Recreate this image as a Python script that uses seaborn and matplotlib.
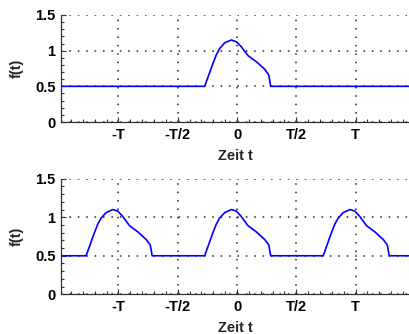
import numpy as np
import pandas as pd
import matplotlib
matplotlib.use("Agg")
import matplotlib.pyplot as plt
import seaborn as sns
from matplotlib.ticker import MultipleLocator

# Pulse shape (time in units of T)
pulse_t = [-0.273, -0.203, -0.175, -0.146, -0.104, -0.048, -0.006,
           0.036, 0.093, 0.163, 0.234, 0.268, 0.284]
pulse_top = [0.5, 0.82, 0.94, 1.03, 1.11, 1.15, 1.125,
             1.055, 0.93, 0.845, 0.74, 0.66, 0.5]
pulse_bottom = [0.5, 0.80, 0.91, 0.99, 1.06, 1.10, 1.08,
                1.01, 0.89, 0.81, 0.71, 0.64, 0.5]
base_level = 0.5
periods = [-1, 0, 1]

x_ticks = [-1, -0.5, 0, 0.5, 1]
x_ticklabels = ['-T', '-T/2', '0', 'T/2', 'T']
y_ticks = [0, 0.5, 1, 1.5]
y_ticklabels = ['0', '0.5', '1', '1.5']
x_range = (-1.485, 1.451)

# single pulse on a constant level
top_df = pd.DataFrame({
    't': [x_range[0]] + pulse_t + [x_range[1]],
    'f': [base_level] + pulse_top + [base_level],
})

# periodic continuation
rows_t, rows_f = [x_range[0]], [base_level]
for k in periods:
    rows_t += [k + t for t in pulse_t]
    rows_f += pulse_bottom
rows_t.append(x_range[1])
rows_f.append(base_level)
bottom_df = pd.DataFrame({'t': rows_t, 'f': rows_f})

sns.set_style("ticks")
plt.rcParams['font.family'] = ['Liberation Sans', 'DejaVu Sans']
plt.rcParams['font.weight'] = 'bold'

fig = plt.figure(figsize=(4.09, 3.34), dpi=100)
ax1 = fig.add_axes([61 / 409, (334 - 122) / 334, 348 / 409, 107 / 334])
ax2 = fig.add_axes([61 / 409, (334 - 294.3) / 334, 348 / 409, 115.6 / 334])

for ax, df in [(ax1, top_df), (ax2, bottom_df)]:
    sns.lineplot(data=df, x='t', y='f', ax=ax, color='#0000ff',
                 linewidth=1.2, sort=False, estimator=None)
    ax.set_xlim(*x_range)
    ax.set_ylim(0, 1.5)
    ax.set_xticks(x_ticks)
    ax.set_xticklabels(x_ticklabels)
    ax.set_yticks(y_ticks)
    ax.set_yticklabels(y_ticklabels)
    ax.xaxis.set_minor_locator(MultipleLocator(0.1))
    ax.yaxis.set_minor_locator(MultipleLocator(0.1))
    ax.tick_params(which='both', direction='in', colors='#333333',
                   labelcolor='black', labelsize=10.5, width=0.8)
    ax.tick_params(which='major', length=3.5, pad=4)
    ax.tick_params(which='minor', length=2)
    for lbl in ax.get_xticklabels() + ax.get_yticklabels():
        lbl.set_fontweight('bold')
    ax.grid(True, which='major', color='#222222', linestyle=(0, (1, 4.5)),
            linewidth=1.1)
    ax.set_axisbelow(True)
    sns.despine(ax=ax, top=True, right=True)
    for s in ['left', 'bottom']:
        ax.spines[s].set_color('#333333')
        ax.spines[s].set_linewidth(0.9)
    ax.set_xlabel('Zeit t', fontsize=10.5, fontweight='bold', labelpad=5)
    ax.set_ylabel('f(t)', fontsize=10.5, fontweight='bold', labelpad=8)

fig.savefig('out.png', dpi=100)
